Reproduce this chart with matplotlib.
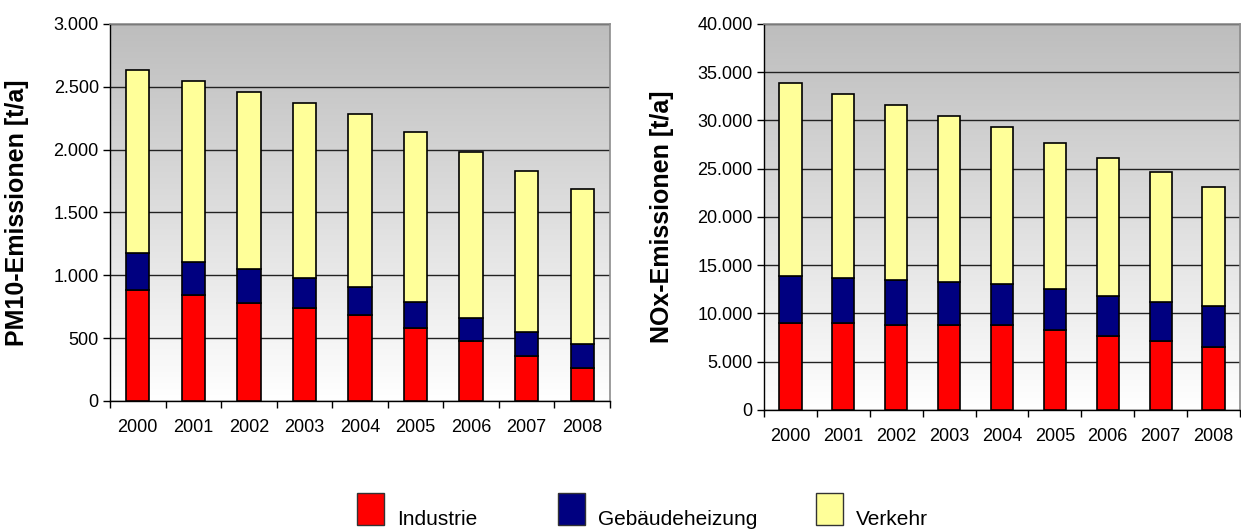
import numpy as np
import matplotlib
matplotlib.use("Agg")
import matplotlib.pyplot as plt
from matplotlib.patches import Rectangle
from matplotlib.ticker import FuncFormatter, FixedLocator, MultipleLocator

plt.rcParams['font.family'] = ['Liberation Sans', 'DejaVu Sans']

years = ['2000', '2001', '2002', '2003', '2004', '2005', '2006', '2007', '2008']
sources = ['Industrie', 'Gebäudeheizung', 'Verkehr']
colors = ['#ff0000', '#000080', '#ffff99']

# PM10 emissions in t/a, stacked per source
pm10_industrie = [883, 843, 782, 740, 684, 578, 480, 361, 260]
pm10_heizung = [297, 263, 268, 239, 220, 210, 178, 191, 191]
pm10_verkehr = [1454, 1443, 1412, 1392, 1380, 1353, 1321, 1281, 1239]

# NOx emissions in t/a, stacked per source
nox_industrie = [9050, 9050, 8810, 8810, 8810, 8290, 7700, 7150, 6560]
nox_heizung = [4800, 4590, 4660, 4450, 4250, 4210, 4080, 4010, 4250]
nox_verkehr = [20070, 19100, 18130, 17240, 16300, 15160, 14340, 13470, 12300]


def thousands(v, pos):
    return f"{int(round(v)):,}".replace(",", ".")


def stacked_panel(ax, series, ymax, step, ylabel, label_x):
    x = np.arange(len(years))
    # grey-to-white background gradient
    grad = np.linspace(1.0, 0.0, 256).reshape(-1, 1)
    ax.imshow(grad, cmap=plt.cm.colors.LinearSegmentedColormap.from_list(
        'bg', ['#ffffff', '#bdbdbd']), aspect='auto',
        extent=(-0.5, 8.5, 0, ymax), zorder=0, vmin=0, vmax=1)
    bottom = np.zeros(len(years))
    for vals, col in zip(series, colors):
        ax.bar(x, vals, width=0.42, bottom=bottom, color=col,
               edgecolor='black', linewidth=1.2, zorder=3)
        bottom += np.array(vals)

    ax.set_xlim(-0.5, 8.5)
    ax.set_ylim(0, ymax)
    ax.yaxis.set_major_locator(MultipleLocator(step))
    ax.yaxis.set_major_formatter(FuncFormatter(thousands))
    ax.set_xticks(x)
    ax.set_xticklabels(years)
    ax.xaxis.set_minor_locator(FixedLocator(np.arange(-0.5, 9, 1)))
    ax.tick_params(axis='x', which='major', length=0, pad=13, labelsize=13)
    ax.tick_params(axis='x', which='minor', length=5, width=1, direction='out')
    ax.tick_params(axis='y', length=5, width=1, pad=3, labelsize=13)
    ax.grid(axis='y', color='#222222', linewidth=1, zorder=1)
    ax.set_axisbelow(True)
    for side in ['top', 'right']:
        ax.spines[side].set_color('#8c8c8c')
        ax.spines[side].set_linewidth(1.2)
    for side in ['left', 'bottom']:
        ax.spines[side].set_color('black')
        ax.spines[side].set_linewidth(1)
    ax.set_ylabel(ylabel, fontsize=18, fontweight='bold')
    ax.yaxis.set_label_coords(label_x, 0.5)


fig = plt.figure(figsize=(12.41, 5.29), dpi=100)
ax1 = fig.add_axes([0.0886, 0.242, 0.4029, 0.7127])
ax2 = fig.add_axes([0.6156, 0.225, 0.3836, 0.7297])

stacked_panel(ax1, [pm10_industrie, pm10_heizung, pm10_verkehr],
              3000, 500, 'PM10-Emissionen [t/a]', -0.162)
stacked_panel(ax2, [nox_industrie, nox_heizung, nox_verkehr],
              40000, 5000, 'NOx-Emissionen [t/a]', -0.189)

# legend along the bottom edge
W, H = 1241, 529
legend_x = [357, 558, 816]
for lx, name, col in zip(legend_x, sources, colors):
    fig.patches.append(Rectangle((lx / W, 4 / H), 27 / W, 32 / H,
                                 transform=fig.transFigure, facecolor=col,
                                 edgecolor='#333333', linewidth=1))
    fig.text((lx + 40) / W, 4 / H, name, fontsize=15, va='baseline', ha='left')

fig.savefig('out.png', dpi=100)
